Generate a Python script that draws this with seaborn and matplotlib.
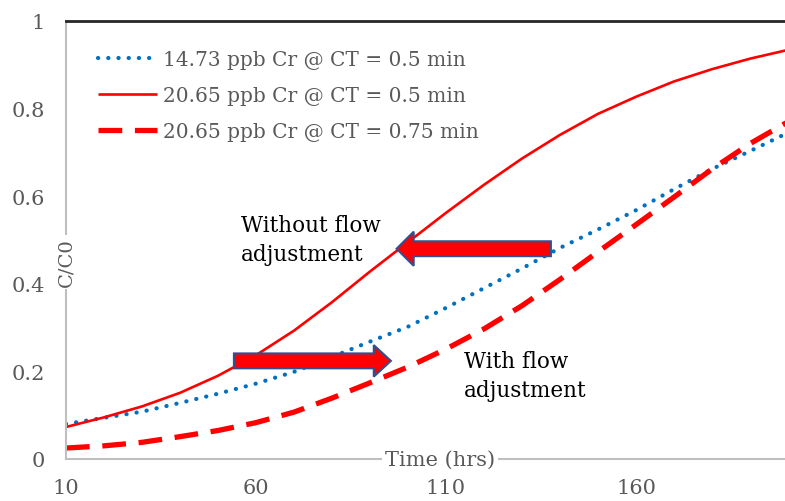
import matplotlib
matplotlib.use("Agg")
import matplotlib.pyplot as plt
import seaborn as sns
import pandas as pd
from matplotlib.patches import FancyArrow

sns.set_theme(style="white")
plt.rcParams['font.family'] = ['DejaVu Serif']

time_hrs = [10, 20, 30, 40, 50, 60, 70, 80, 90, 100, 110, 120, 130, 140, 150, 160, 170, 180, 190, 200]
cr1473_ct05 = [0.080, 0.094, 0.108, 0.128, 0.149, 0.172, 0.199, 0.233, 0.268, 0.302, 0.345, 0.390, 0.435, 0.482,
               0.524, 0.568, 0.616, 0.662, 0.703, 0.745]
cr2065_ct05 = [0.073, 0.095, 0.120, 0.151, 0.190, 0.237, 0.293, 0.358, 0.428, 0.495, 0.562, 0.626, 0.686, 0.740,
               0.788, 0.827, 0.862, 0.890, 0.914, 0.934]
cr2065_ct075 = [0.025, 0.030, 0.038, 0.051, 0.065, 0.083, 0.107, 0.139, 0.174, 0.210, 0.251, 0.297, 0.350, 0.410,
                0.473, 0.535, 0.598, 0.662, 0.720, 0.770]
labels = ["14.73 ppb Cr @ CT = 0.5 min", "20.65 ppb Cr @ CT = 0.5 min", "20.65 ppb Cr @ CT = 0.75 min"]
x_ticks = [10, 60, 110, 160]
y_ticks = [0, 0.2, 0.4, 0.6, 0.8, 1]
y_ticklabels = ["0", "0.2", "0.4", "0.6", "0.8", "1"]

gray = "#595959"
fig = plt.figure(figsize=(7.85, 5.02), dpi=100)
ax = fig.add_axes([0.084, 0.0837, 0.916, 0.8725])

df1 = pd.DataFrame({"t": time_hrs, "v": cr1473_ct05})
df2 = pd.DataFrame({"t": time_hrs, "v": cr2065_ct05})
df3 = pd.DataFrame({"t": time_hrs, "v": cr2065_ct075})

sns.lineplot(data=df1, x="t", y="v", ax=ax, color="#0070C0", linewidth=3.0,
             linestyle=(0, (0.05, 2.4)), dash_capstyle="round", label=labels[0])
sns.lineplot(data=df2, x="t", y="v", ax=ax, color="#FF0000", linewidth=1.9, label=labels[1])
sns.lineplot(data=df3, x="t", y="v", ax=ax, color="#FF0000", linewidth=3.8,
             linestyle=(0, (4.5, 2.4)), label=labels[2])

for ln in ax.get_lines():
    ln.set_solid_capstyle("butt")
    ln.set_solid_joinstyle("round")
ax.get_lines()[0].set_dash_capstyle("round")

ax.set_xlim(10, 199.2)
ax.set_ylim(0, 1)
ax.set_xticks(x_ticks)
ax.set_yticks(y_ticks)
ax.set_yticklabels(y_ticklabels)
ax.tick_params(axis="both", length=0, labelsize=15, labelcolor=gray)
ax.tick_params(axis="x", pad=14)
ax.tick_params(axis="y", pad=15)

for s in ["left", "bottom"]:
    ax.spines[s].set_color("#BFBFBF")
    ax.spines[s].set_linewidth(1.5)
ax.spines["right"].set_visible(False)
ax.spines["top"].set_color("#262626")
ax.spines["top"].set_linewidth(2)

ax.set_xlabel("")
ax.set_ylabel("")
ax.text(108.4, 0, "Time (hrs)", ha="center", va="center", fontsize=15, color=gray,
        bbox=dict(facecolor="white", edgecolor="none", pad=2), zorder=5, clip_on=False)
ax.text(10, 0.45, "C/C0", ha="center", va="center", rotation=90, fontsize=14, color=gray,
        bbox=dict(facecolor="white", edgecolor="none", pad=2), zorder=5, clip_on=False)

leg = ax.legend(loc="upper left", bbox_to_anchor=(0.02, 0.975), frameon=False, fontsize=14.5,
                handlelength=2.9, handletextpad=0.3, labelspacing=0.85, labelcolor=gray)

# arrows
ax.add_patch(FancyArrow(137.6, 0.48, -40.6, 0, width=0.034, head_width=0.078, head_length=4.5,
                        length_includes_head=True, facecolor="#FF0000", edgecolor="#2F528F",
                        linewidth=1.5, zorder=6))
ax.add_patch(FancyArrow(54.2, 0.224, 41.3, 0, width=0.034, head_width=0.072, head_length=4.5,
                        length_includes_head=True, facecolor="#FF0000", edgecolor="#2F528F",
                        linewidth=1.5, zorder=6))

ax.text(56, 0.502, "Without flow\nadjustment", ha="left", va="center", fontsize=15.5, color="black",
        linespacing=1.4, zorder=7)
ax.text(114.7, 0.19, "With flow\nadjustment", ha="left", va="center", fontsize=15.5, color="black",
        linespacing=1.4, zorder=7)

fig.savefig("out.png", dpi=100)
